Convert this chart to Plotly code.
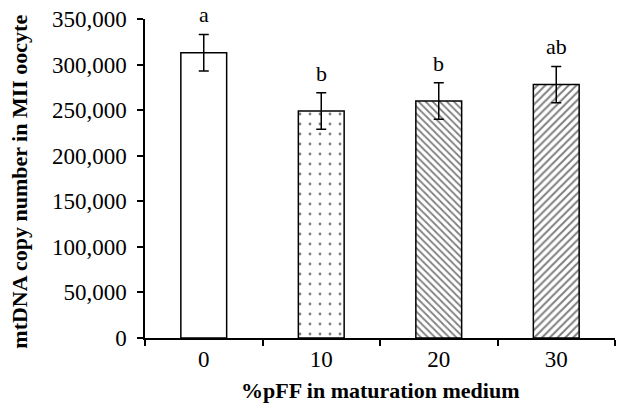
import plotly.graph_objects as go

categories = ["0", "10", "20", "30"]
values = [313000, 249000, 260000, 278000]
errors = [20000, 20000, 20000, 20000]
letters = ["a", "b", "b", "ab"]
patterns = ["", ".", "\\", "/"]
y_ticks = [0, 50000, 100000, 150000, 200000, 250000, 300000, 350000]

FONT = "Liberation Serif, Times New Roman, serif"

fig = go.Figure()
fig.add_trace(go.Bar(
    x=categories, y=values,
    width=0.39,
    marker=dict(
        color="white",
        line=dict(color="black", width=1.5),
        pattern=dict(shape=patterns, fgcolor="black", bgcolor="white",
                     size=[8, 10, 5, 5.5], solidity=[0.2, 0.06, 0.35, 0.35]),
    ),
    error_y=dict(type="data", array=errors, visible=True, color="black",
                 thickness=1.5, width=5),
    showlegend=False,
))

for i, (v, e, t) in enumerate(zip(values, errors, letters)):
    fig.add_annotation(x=i, y=v + e, text=t, showarrow=False,
                       yanchor="bottom", yshift=5,
                       font=dict(family=FONT, size=22, color="black"))

# axis titles
fig.add_annotation(xref="paper", yref="paper", x=0.5, y=0, yshift=-52,
                   text="<b>%pFF in maturation medium</b>", showarrow=False,
                   xanchor="center", yanchor="middle",
                   font=dict(family=FONT, size=22, color="black"))
fig.add_annotation(xref="paper", yref="paper", x=0, y=0.49, xshift=-125,
                   text="<b>mtDNA copy number in MII oocyte</b>", showarrow=False,
                   textangle=-90, xanchor="center", yanchor="middle",
                   font=dict(family=FONT, size=22, color="black"))

fig.update_layout(
    width=642, height=420,
    margin=dict(l=145, r=27, t=19, b=82, autoexpand=False),
    plot_bgcolor="white", paper_bgcolor="white",
    font=dict(family=FONT, size=23, color="black"),
)
fig.update_xaxes(
    type="category", range=[-0.5, 3.5], automargin=False,
    showline=True, linecolor="black", linewidth=1.5,
    ticks="outside", tickson="boundaries", ticklen=6, tickcolor="black", tickwidth=1.5,
    showgrid=False,
    tickfont=dict(family=FONT, size=23),
)
fig.update_yaxes(
    range=[0, 350000], tickvals=y_ticks, tickformat=",d", automargin=False,
    showline=True, linecolor="black", linewidth=1.5,
    ticks="outside", ticklen=6, tickcolor="black", tickwidth=1.5,
    ticklabelstandoff=6, ticklabeloverflow="allow",
    showgrid=False, zeroline=False,
    tickfont=dict(family=FONT, size=23),
)

fig.write_html("out.html", config={"displayModeBar": False},
               post_script="document.body.style.margin='0px';")
